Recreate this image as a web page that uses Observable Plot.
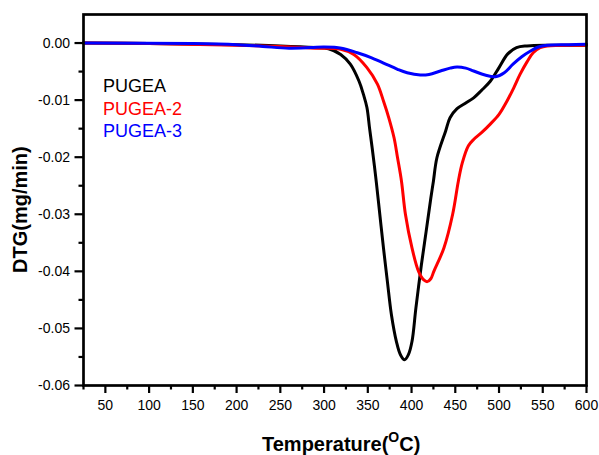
<!DOCTYPE html>
<html>
<head>
<meta charset="utf-8">
<script src="https://cdn.jsdelivr.net/npm/d3@7"></script>
<script src="https://cdn.jsdelivr.net/npm/@observablehq/plot@0.6"></script>
<style>
  html, body { margin: 0; padding: 0; background: #fff; }
  #chart { width: 599px; height: 455px; }
</style>
</head>
<body>
<div id="chart"></div>
<script>
// ---- data ----
const seriesNames = ["PUGEA", "PUGEA-2", "PUGEA-3"];
const seriesColors = ["#000000", "#ff0000", "#0000ff"];

const pugeaT = [25, 100, 200, 250, 290, 305, 319, 330, 340, 345, 349, 352, 355, 358.7, 362.1, 367.9, 372.4, 377, 382.7, 387.3, 392, 396.4, 400.5, 405, 411.3, 416.7, 422.1, 425, 429, 439, 444, 452, 462, 471, 480, 490, 500, 510, 520, 532, 560, 600];
const pugeaV = [0, -0.0001, -0.0003, -0.0005, -0.0008, -0.001, -0.002, -0.0037, -0.0067, -0.009, -0.0113, -0.0149, -0.0184, -0.0230, -0.0277, -0.0359, -0.0418, -0.0476, -0.0523, -0.0546, -0.0555, -0.0546, -0.0523, -0.0464, -0.0388, -0.0330, -0.0271, -0.0242, -0.0201, -0.0154, -0.0131, -0.0115, -0.0105, -0.0096, -0.0083, -0.0067, -0.0043, -0.0019, -0.0008, -0.0005, -0.0004, -0.0004];

const pugea2T = [25, 100, 200, 250, 290, 319, 334, 349, 361, 368, 374, 380, 384, 388.5, 393, 400.5, 408, 414, 418, 422, 425.5, 437, 447, 453.5, 458, 465, 471, 480, 490, 500, 509, 517, 524, 532, 539, 547, 555, 600];
const pugea2V = [0, -0.0001, -0.0004, -0.0006, -0.0009, -0.0011, -0.002, -0.0043, -0.0072, -0.0102, -0.0131, -0.0166, -0.0201, -0.0242, -0.0300, -0.0359, -0.0400, -0.0415, -0.0418, -0.0413, -0.0400, -0.0359, -0.0300, -0.0242, -0.0210, -0.0180, -0.0169, -0.0157, -0.0142, -0.0125, -0.0102, -0.0078, -0.0055, -0.0033, -0.0017, -0.0008, -0.0005, -0.0004];

const pugea3T = [25, 150, 200, 230, 260, 285, 300, 320, 338, 353, 368, 384, 395, 410, 420, 433, 444, 452, 462, 471, 484, 496, 506, 516, 526, 536, 545, 555, 580, 600];
const pugea3V = [0, -0.0001, -0.0003, -0.0006, -0.0009, -0.0008, -0.0007, -0.0009, -0.0017, -0.0025, -0.0035, -0.0046, -0.0052, -0.0056, -0.0055, -0.0049, -0.0044, -0.0042, -0.0044, -0.0049, -0.0056, -0.0059, -0.0052, -0.0037, -0.0024, -0.0014, -0.0007, -0.0004, -0.0003, -0.0002];

const xMajorTicks = [50, 100, 150, 200, 250, 300, 350, 400, 450, 500, 550, 600];
const xMinorTicks = [25, 75, 125, 175, 225, 275, 325, 375, 425, 475, 525, 575];
const yMajorTicks = [0, -0.01, -0.02, -0.03, -0.04, -0.05, -0.06];
const yMinorTicks = [-0.005, -0.015, -0.025, -0.035, -0.045, -0.055];

const xTitle = "Temperature(";
const xTitleSup = "O";
const xTitleEnd = "C)";
const yTitle = "DTG(mg/min)";

// ---- build table ----
const allT = [pugeaT, pugea2T, pugea3T];
const allV = [pugeaV, pugea2V, pugea3V];
const data = [];
seriesNames.forEach((name, i) => {
  allT[i].forEach((t, j) => data.push({series: name, t, v: allV[i][j]}));
});

const FONT = "Arial, 'Liberation Sans', Helvetica, sans-serif";

const chart = Plot.plot({
  width: 599,
  height: 455,
  marginLeft: 83,
  marginRight: 13,
  marginTop: 14,
  marginBottom: 70,
  style: {fontFamily: FONT, fontSize: "14px", color: "#000", background: "#fff"},
  x: {domain: [25, 600]},
  y: {domain: [-0.06, 0.005]},
  color: {domain: seriesNames, range: seriesColors},
  marks: [
    Plot.line(data, {x: "t", y: "v", z: "series", stroke: "series", strokeWidth: 3, curve: "catmull-rom"}),
    Plot.axisX({ticks: xMajorTicks, tickSize: 8, tickPadding: 7, strokeWidth: 2.2, tickFormat: d => String(d), label: null, fontSize: 14}),
    Plot.axisX({ticks: xMinorTicks, tickSize: 4.5, strokeWidth: 2.2, tickFormat: () => "", label: null}),
    Plot.axisY({ticks: yMajorTicks, tickSize: 8.5, tickPadding: 5, strokeWidth: 2.2, tickFormat: d => d.toFixed(2), label: null, fontSize: 14}),
    Plot.axisY({ticks: yMinorTicks, tickSize: 4.5, strokeWidth: 2.2, tickFormat: () => "", label: null}),
    Plot.frame({strokeWidth: 2.7})
  ]
});
document.getElementById("chart").appendChild(chart);

const svg = d3.select(chart);
const xs = chart.scale("x"), ys = chart.scale("y");

// legend (text only, as in the reference)
const legBase = [92, 114.5, 137];
seriesNames.forEach((name, i) => {
  svg.append("text")
    .attr("x", xs.apply(25) + 20)
    .attr("y", legBase[i])
    .attr("text-anchor", "start")
    .attr("fill", seriesColors[i])
    .attr("font-family", FONT)
    .attr("font-size", 18)
    .text(name);
});

// axis titles
const xt = svg.append("text")
  .attr("x", 262)
  .attr("y", 451)
  .attr("text-anchor", "start")
  .attr("font-family", FONT)
  .attr("font-size", 20)
  .attr("font-weight", "bold")
  .attr("fill", "#000");
xt.append("tspan").text(xTitle);
xt.append("tspan").attr("font-size", 14).attr("dy", -9).text(xTitleSup);
xt.append("tspan").attr("dy", 9).text(xTitleEnd);

svg.append("text")
  .attr("transform", `translate(27,273) rotate(-90)`)
  .attr("text-anchor", "start")
  .attr("font-family", FONT)
  .attr("font-size", 20)
  .attr("font-weight", "bold")
  .attr("fill", "#000")
  .text(yTitle);
</script>
</body>
</html>
